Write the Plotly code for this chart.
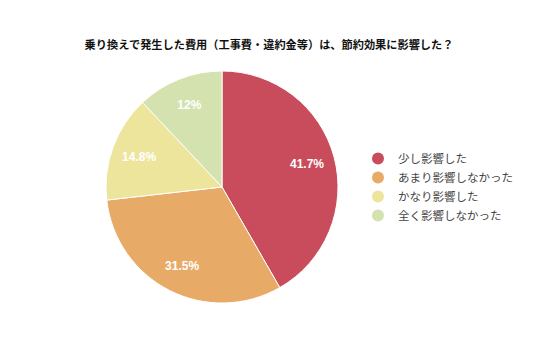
import plotly.graph_objects as go

title = "乗り換えで発生した費用（工事費・違約金等）は、節約効果に影響した？"
categories = ["少し影響した", "あまり影響しなかった", "かなり影響した", "全く影響しなかった"]
values = [41.7, 31.5, 14.8, 12.0]
value_labels = ["41.7%", "31.5%", "14.8%", "12%"]
colors = ["#C94C5C", "#E8AB67", "#EDE59C", "#D3E2AE"]

W, H = 528, 349
dom = dict(x=[98/W, 330/W], y=[54/H, 286/H])

fig = go.Figure()
fig.add_trace(go.Pie(
    labels=categories, values=values,
    textinfo="none",
    sort=False, direction="clockwise", rotation=0,
    marker=dict(colors=colors, line=dict(color="white", width=1)),
    showlegend=False, hoverinfo="label+percent",
    domain=dom,
))
# transparent ring carrying the value labels further out
fig.add_trace(go.Pie(
    labels=categories, values=values, text=value_labels, hole=0.52,
    textinfo="text", textposition="inside", insidetextorientation="horizontal",
    sort=False, direction="clockwise", rotation=0,
    marker=dict(colors=["rgba(0,0,0,0)"] * 4, line=dict(width=0)),
    textfont=dict(color="white", size=12, family="Liberation Sans, Arial, sans-serif", weight="bold"),
    showlegend=False, hoverinfo="skip",
    domain=dom,
))
for c, col in zip(categories, colors):
    fig.add_trace(go.Scatter(x=[None], y=[None], mode="markers", name=c,
                             marker=dict(symbol="circle", size=11, color=col)))

fig.update_layout(
    width=W, height=H,
    margin=dict(l=0, r=0, t=0, b=0, autoexpand=False),
    paper_bgcolor="white", plot_bgcolor="white",
    font=dict(family="Noto Sans CJK JP, sans-serif", color="#444"),
    title=dict(text="<b>" + title + "</b>", x=261/W, xanchor="center", y=1 - 37/H, yanchor="middle",
               yref="paper",
               font=dict(size=11.2, color="#111", family="Noto Sans CJK JP, sans-serif")),
    xaxis=dict(visible=False), yaxis=dict(visible=False),
    legend=dict(x=350/W, xanchor="left", y=1 - 136/H, yanchor="top",
                font=dict(size=11.5, color="#444"), itemsizing="constant",
                tracegroupgap=0, bgcolor="rgba(0,0,0,0)"),
)
fig.write_html("out.html")
